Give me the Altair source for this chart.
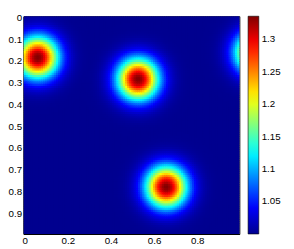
import altair as alt
import numpy as np
import pandas as pd

# Blob parameters (data units)
blob_x = [0.06, 0.525, 0.656, 1.075]
blob_y = [0.185, 0.285, 0.78, 0.164]
blob_amp = [0.336, 0.336, 0.336, 0.336]
blob_sigma = [0.067, 0.067, 0.067, 0.067]
base_value = 1.0
grid_n = 100
grid_step = 0.01

x_ticks = [0, 0.2, 0.4, 0.6, 0.8]
y_ticks = [0, 0.1, 0.2, 0.3, 0.4, 0.5, 0.6, 0.7, 0.8, 0.9]
cbar_ticks = [1.05, 1.1, 1.15, 1.2, 1.25, 1.3]
cbar_min, cbar_max = 1.0, 1.336
jet_fracs = [0, 0.125, 0.375, 0.625, 0.875, 1.0]
jet_colors = ["#00008F", "#0000FF", "#00FFFF", "#FFFF00", "#FF0000", "#800000"]

g = np.arange(grid_n) * grid_step
X, Y = np.meshgrid(g, g)
V = np.full_like(X, base_value)
for cx, cy, a, s in zip(blob_x, blob_y, blob_amp, blob_sigma):
    V += a * np.exp(-((X - cx) ** 2 + (Y - cy) ** 2) / (2 * s * s))

half = grid_step / 2
overlap = 0.006
df = pd.DataFrame({
    "x0": (X - half).ravel().round(4),
    "x1": (X + half + overlap).ravel().round(4),
    "y0": (Y - half).ravel().round(4),
    "y1": (Y + half + overlap).ravel().round(4),
    "v": V.ravel().round(4),
})

stops = [cbar_min + f * (cbar_max - cbar_min) for f in jet_fracs]
W, H = 222, 224
lo, hi = -half, 1 - half

chart = alt.Chart(df).mark_rect(clip=True).encode(
    x=alt.X("x0:Q", scale=alt.Scale(domain=[lo, hi], nice=False, zero=False),
            axis=alt.Axis(values=x_ticks, format="~g", title=None)),
    x2="x1:Q",
    y=alt.Y("y0:Q", scale=alt.Scale(domain=[lo, hi], nice=False, zero=False, reverse=True),
            axis=alt.Axis(values=y_ticks, format="~g", title=None)),
    y2="y1:Q",
    color=alt.Color("v:Q",
                    scale=alt.Scale(domain=stops, range=jet_colors, interpolate="rgb"),
                    legend=alt.Legend(title=None, values=cbar_ticks,
                                      labelExpr="format(datum.value, '.3~g')",
                                      gradientLength=H, gradientThickness=11,
                                      offset=9, padding=0, labelOffset=3,
                                      labelOverlap=False,
                                      gradientStrokeColor="black", gradientStrokeWidth=0.6)),
).properties(
    width=W, height=H,
    autosize=alt.AutoSizeParams(type="none"),
    padding={"left": 16, "top": 5, "right": 48, "bottom": 13},
).configure_view(
    stroke="black", strokeWidth=1
).configure_axis(
    grid=False, ticks=False, domainColor="black", domainWidth=1,
    labelFont="Liberation Sans", labelFontSize=10, labelColor="black", labelPadding=2,
).configure_legend(
    labelFont="Liberation Sans", labelFontSize=10, labelColor="black",
)

chart.save("out.html", embed_options={"renderer": "svg", "actions": False})
